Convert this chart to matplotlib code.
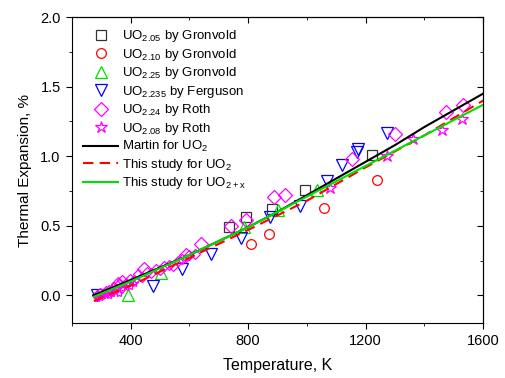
import matplotlib
matplotlib.use('Agg')
import matplotlib.pyplot as plt
from matplotlib.ticker import MultipleLocator, FormatStrFormatter

plt.rcParams['font.family'] = ['Liberation Sans', 'DejaVu Sans']
plt.rcParams['mathtext.fontset'] = 'custom'
plt.rcParams['mathtext.rm'] = 'Liberation Sans'

# UO2.05 by Gronvold
t_gr205 = [735, 794, 882, 995, 1221]
v_gr205 = [0.49, 0.56, 0.62, 0.755, 1.01]
# UO2.10 by Gronvold
t_gr210 = [808, 870, 1057, 1238]
v_gr210 = [0.37, 0.44, 0.63, 0.83]
# UO2.25 by Gronvold
t_gr225 = [390, 503, 786, 901, 1035]
v_gr225 = [0.0, 0.16, 0.49, 0.61, 0.755]
# UO2.235 by Ferguson
t_fer = [287, 475, 575, 673, 775, 873, 976, 1068, 1119, 1170, 1175, 1272]
v_fer = [0.0, 0.07, 0.19, 0.30, 0.41, 0.56, 0.64, 0.82, 0.935, 1.03, 1.05, 1.17]
# UO2.24 by Roth (sparse, high T)
t_r224 = [356, 447, 588, 639, 741, 791, 887, 924, 1153, 1300, 1475, 1531]
v_r224 = [0.085, 0.19, 0.29, 0.37, 0.50, 0.54, 0.71, 0.72, 0.98, 1.16, 1.32, 1.37]
# UO2.24 by Roth (dense, low T)
t_r224_d = [285, 295, 305, 315, 325, 335, 345, 360, 372, 385, 398, 410, 425, 440,
            455, 470, 485, 500, 515, 530, 545, 560, 575, 600, 620]
v_r224_d = [0.00, 0.02, 0.01, 0.03, 0.04, 0.03, 0.06, 0.08, 0.11, 0.09, 0.12, 0.11, 0.15, 0.13,
            0.17, 0.16, 0.19, 0.18, 0.21, 0.22, 0.21, 0.25, 0.26, 0.29, 0.30]
# UO2.08 by Roth
t_r208 = [1080, 1274, 1362, 1458, 1529]
v_r208 = [0.77, 1.00, 1.12, 1.19, 1.27]
t_r208_d = [285, 295, 305, 315, 325, 335, 348, 360, 372, 385, 398, 410]
v_r208_d = [-0.02, -0.01, 0.0, 0.01, 0.0, 0.02, 0.03, 0.02, 0.05, 0.06, 0.07, 0.09]

# fitted curves
t_martin = [273, 400, 500, 600, 700, 800, 900, 1000, 1100, 1200, 1300, 1400, 1500, 1600]
v_martin = [0.0, 0.11, 0.20, 0.29, 0.39, 0.49, 0.60, 0.72, 0.84, 0.96, 1.08, 1.21, 1.33, 1.45]
t_red = [275, 400, 600, 800, 1000, 1200, 1400, 1600]
v_red = [-0.04, 0.07, 0.27, 0.47, 0.68, 0.92, 1.15, 1.40]
t_green = [275, 400, 600, 800, 1000, 1200, 1400, 1600]
v_green = [-0.01, 0.10, 0.29, 0.49, 0.71, 0.93, 1.15, 1.37]

fig = plt.figure(figsize=(5.06, 3.78), dpi=100)
ax = fig.add_axes([0.142, 0.145, 0.813, 0.81])

mk = dict(linestyle='none', markerfacecolor='none', markeredgewidth=0.9)
ax.plot(t_gr205, v_gr205, marker='s', color='#333333', markersize=7, label=r'UO$_{\mathregular{2.05}}$ by Gronvold', **mk)
ax.plot(t_gr210, v_gr210, marker='o', color='red', markersize=7, label=r'UO$_{\mathregular{2.10}}$ by Gronvold', **mk)
ax.plot(t_gr225, v_gr225, marker='^', color='#00e000', markersize=8.5, label=r'UO$_{\mathregular{2.25}}$ by Gronvold', **mk)
ax.plot(t_fer, v_fer, marker='v', color='blue', markersize=8.5, label=r'UO$_{\mathregular{2.235}}$ by Ferguson', **mk)
ax.plot(t_r224, v_r224, marker='D', color='magenta', markersize=7.5, label=r'UO$_{\mathregular{2.24}}$ by Roth', **mk)
ax.plot(t_r224_d, v_r224_d, marker='D', color='magenta', markersize=5, **mk)
ax.plot(t_r208, v_r208, marker='*', color='magenta', markersize=9, label=r'UO$_{\mathregular{2.08}}$ by Roth', **mk)
ax.plot(t_r208_d, v_r208_d, marker='*', color='magenta', markersize=6, **mk)

ax.plot(t_martin, v_martin, '-', color='black', lw=1.5, label=r'Martin for UO$_{\mathregular{2}}$')
ax.plot(t_red, v_red, '--', color='red', lw=1.5, dashes=(5, 3), label=r'This study for UO$_{\mathregular{2}}$')
ax.plot(t_green, v_green, '-', color='#00e000', lw=1.5, label=r'This study for UO$_{\mathregular{2+x}}$')

ax.set_xlim(200, 1600)
ax.set_ylim(-0.2, 2.0)
ax.xaxis.set_major_locator(MultipleLocator(400))
ax.xaxis.set_minor_locator(MultipleLocator(200))
ax.yaxis.set_major_locator(MultipleLocator(0.5))
ax.yaxis.set_minor_locator(MultipleLocator(0.25))
ax.yaxis.set_major_formatter(FormatStrFormatter('%.1f'))
ax.tick_params(which='both', direction='out', labelsize=10.5, pad=4)
ax.tick_params(which='major', length=4)
ax.tick_params(which='minor', length=2.5)

top = ax.secondary_xaxis('top')
top.xaxis.set_major_locator(MultipleLocator(400))
top.xaxis.set_minor_locator(MultipleLocator(200))
top.tick_params(which='both', direction='in', labeltop=False)
top.tick_params(which='major', length=4)
top.tick_params(which='minor', length=2.5)
right = ax.secondary_yaxis('right')
right.yaxis.set_major_locator(MultipleLocator(0.5))
right.yaxis.set_minor_locator(MultipleLocator(0.25))
right.tick_params(which='both', direction='in', labelright=False)
right.tick_params(which='major', length=4)
right.tick_params(which='minor', length=2.5)

ax.set_xlabel('Temperature, K', fontsize=11.5, labelpad=7)
ax.set_ylabel('Thermal Expansion, %', fontsize=11, labelpad=6)

ax.legend(loc='upper left', frameon=False, fontsize=9.5, handlelength=2.65,
          labelspacing=0.19, handletextpad=0.3, borderaxespad=0.45)

fig.savefig('out.png', dpi=100)
